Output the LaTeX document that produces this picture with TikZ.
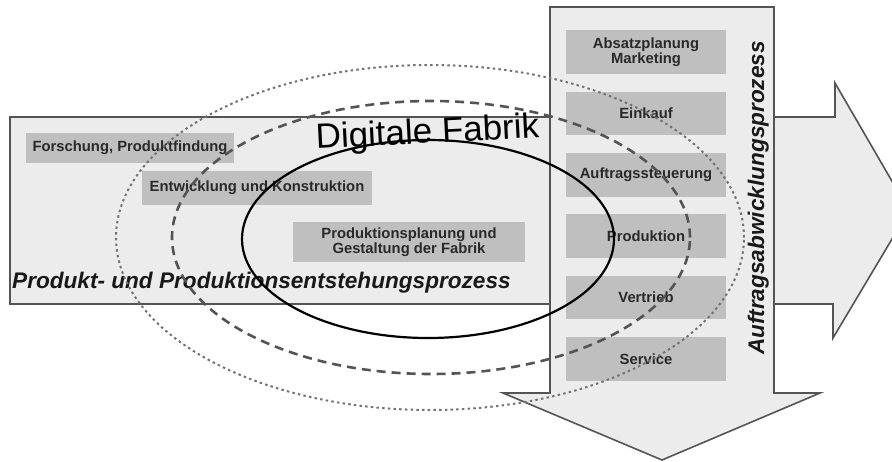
\documentclass[tikz,border=0pt]{standalone}
\usepackage{fontspec}
\setmainfont{Liberation Sans}
\usetikzlibrary{positioning}
\definecolor{bandgray}{rgb}{0.925,0.925,0.925}
\definecolor{boxgray}{rgb}{0.75,0.75,0.75}
\definecolor{linegray}{rgb}{0.33,0.33,0.33}
\definecolor{textgray}{rgb}{0.16,0.16,0.16}
\definecolor{dotgray}{rgb}{0.45,0.45,0.45}
\tikzset{
  band/.style={fill=bandgray,draw=linegray,line width=1.6pt,line join=miter},
  prozbox/.style={fill=boxgray,text=textgray,inner sep=0pt,align=center,
    font=\bfseries\fontsize{14.8}{15.5}\selectfont},
  spaltbox/.style={prozbox,minimum width=160,minimum height=43.5},
  prozname/.style={inner sep=0pt,text=black!90,font=\bfseries\itshape\fontsize{22.6}{24}\selectfont},
  ringsolid/.style={draw=black,line width=2.2pt},
  ringdash/.style={draw=linegray,line width=2.6pt,dash pattern=on 9pt off 6pt,line cap=butt},
  ringdot/.style={draw=dotgray,line width=2pt,dash pattern=on 2.5pt off 3.2pt,line cap=butt}
}
\begin{document}
\begin{tikzpicture}[line cap=round,line join=round,x=1pt,y=-1pt]
\useasboundingbox (0,0) rectangle (892,461);
\clip (0,0) rectangle (892,461);
\draw[band] (10,117) -- (835,117) -- (835,83) -- (909,210.5) -- (833,338) -- (833,304) -- (10,304) -- cycle;
\draw[band] (550,7) -- (774,7) -- (774,393) -- (820,393) -- (662,460) -- (503,393) -- (550,393) -- cycle;
\node[prozbox,minimum width=208,minimum height=30] (forschung) at (130,148) {Forschung, Produktfindung};
\node[prozbox,minimum width=230,minimum height=34] (entwicklung) at (257,188) {Entwicklung und Konstruktion};
\node[prozbox,minimum width=232,minimum height=40] (planung) at (409,242) {Produktionsplanung und\\Gestaltung der Fabrik};
\node[spaltbox] (absatz) at (646,52) {Absatzplanung\\Marketing};
\node[spaltbox,below=17.5pt of absatz] (einkauf) {Einkauf};
\node[spaltbox,below=17.5pt of einkauf] (steuerung) {Auftragssteuerung};
\node[spaltbox,below=17.5pt of steuerung] (produktion) {Produktion};
\node[spaltbox,below=17.5pt of produktion] (vertrieb) {Vertrieb};
\node[spaltbox,below=17.5pt of vertrieb] (service) {Service};
\node[prozname,anchor=base west] (entstehung) at (12,288) {Produkt- und Produktionsentstehungsprozess};
\node[prozname,anchor=base,rotate=90] (abwicklung) at (764,198) {Auftragsabwicklungsprozess};
\node[inner sep=0pt,anchor=base,rotate=3,font=\fontsize{35}{40}\selectfont] (digital) at (428,143) {Digitale Fabrik};
\draw[ringsolid] (428,239) ellipse [x radius=186pt,y radius=99pt];
\draw[ringdash] (431,237.5) ellipse [x radius=259pt,y radius=136.5pt];
\draw[ringdot] (430,237.5) ellipse [x radius=314pt,y radius=172.5pt];
\end{tikzpicture}
\end{document}
